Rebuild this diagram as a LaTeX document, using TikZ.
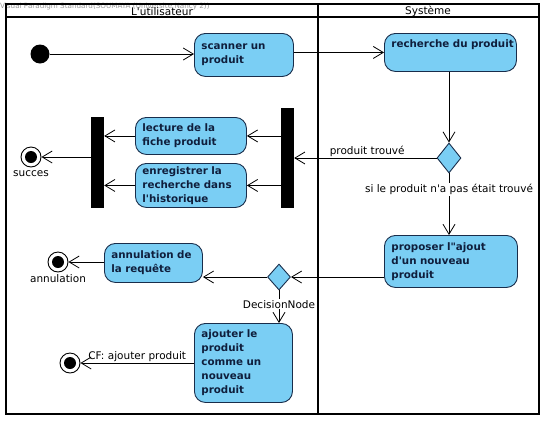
\documentclass[tikz,border=0pt]{standalone}
\usepackage{fontspec}
\setmainfont{DejaVu Sans}
\usepackage{xcolor}
\usetikzlibrary{arrows.meta,shapes.geometric,positioning}
\definecolor{actfill}{RGB}{122,206,244}
\definecolor{actline}{RGB}{25,45,75}
\definecolor{acttext}{RGB}{15,30,60}
\tikzset{>={Straight Barb[length=10pt,width=12pt]}}

\begin{document}
\begin{tikzpicture}[x=1pt,y=-1pt,
                    lane/.style={line width=1.8pt, black},
                    action/.style={rectangle, rounded corners=11pt, draw=actline, line width=0.9pt,
                                   fill=actfill, text=acttext, align=left, anchor=north west,
                                   font=\bfseries\fontsize{10.3}{14}\selectfont,
                                   inner xsep=7pt, inner ysep=3pt},
                    bar/.style={rectangle, fill=black, inner sep=0pt, minimum width=13pt},
                    start/.style={circle, fill=black, inner sep=0pt, minimum size=19pt},
                    stop/.style={circle, draw=black, line width=0.9pt, fill=white, inner sep=0pt,
                                 minimum size=20pt,
                                 path picture={\fill[black] (path picture bounding box.center) circle (6pt);}},
                    decision/.style={diamond, draw=actline, line width=0.9pt, fill=actfill, inner sep=0pt},
                    flow/.style={->, line width=0.8pt},
                    lbl/.style={font=\fontsize{10.5}{12}\selectfont, inner sep=1pt},
                   ]

\useasboundingbox (0,0) rectangle (548,421);

% swimlanes
\node[anchor=west, inner sep=0pt, text=gray!80, font=\fontsize{7.2}{8}\selectfont] (mark) at (0,6.5)
  {Visual Paradigm Standard(SOUMAYA (Universite Nancy 2))};
\draw[lane] (6,4) rectangle (539,414);
\draw[lane] (6,17) -- (539,17);
\draw[lane] (318,4) -- (318,414);
\node[lbl] (user) at (162,11.5) {L\textquotesingle utilisateur};
\node[lbl] (sys) at (428,11.5) {Système};

% actions
\node[start] (init) at (40,54) {};
\node[action, text width=85pt, minimum height=43pt] (scan) at (194,33) {scanner un\\produit};
\node[action, text width=118pt, minimum height=38pt, text depth=18pt] (search) at (384,33) {\mbox{recherche du produit}};
\node[action, text width=97pt, minimum height=37pt] (read) at (135,117) {lecture de la\\fiche produit};
\node[action, text width=97pt, minimum height=44pt, inner ysep=1pt] (log) at (135,163) {enregistrer la\\recherche dans\\l\textquotesingle historique};
\node[action, text width=84pt, minimum height=39pt] (cancel) at (104,243) {annulation de\\la requête};
\node[action, text width=119pt, minimum height=52pt] (offer) at (384,235) {proposer l\textquotedbl ajout\\d\textquotesingle un nouveau\\produit};
\node[action, text width=84pt, minimum height=79pt] (add) at (194,323) {ajouter le\\produit\\comme un\\nouveau\\produit};

\node[bar, minimum height=100pt] (fork) at (287.5,158) {};
\node[bar, minimum height=91pt] (join) at (97.5,162.5) {};

\node[decision, minimum width=24pt, minimum height=30pt] (found) at (449,158) {};
\node[decision, minimum width=23pt, minimum height=26pt] (choice) at (279,277) {};

\node[stop, label={[lbl, label distance=2pt]below:succes}] (ok) at (31,157) {};
\node[stop, label={[lbl, label distance=1pt]below:annulation}] (abort) at (58,262) {};
\node[stop] (cf) at (70,363) {};

% flows
\draw[flow] (init) -- (scan.west |- init);
\draw[flow] (scan.east |- search.west) -- (search.west);
\draw[flow] (search.south -| found.north) -- (found.north);
\draw[flow] (found.west) -- node[lbl, anchor=south west, pos=0.76]{produit trouvé} (fork.east |- found);
\draw[flow] (found.south) -- node[lbl, fill=white, pos=0.26]{si le produit n\textquotesingle a pas était trouvé} (offer.north -| found);
\draw[flow] (fork.west |- read) -- (read.east);
\draw[flow] (fork.west |- log) -- (log.east);
\draw[flow] (read.west) -- (read.west -| join.east);
\draw[flow] (log.west) -- (log.west -| join.east);
\draw[flow] (join.west |- ok) -- (ok.east);
\draw[flow] (offer.west |- choice) -- (choice.east);
\draw[flow] (choice.west) -- (choice.west -| cancel.east);
\draw[flow] (cancel.west |- abort) -- (abort.east);
\draw[flow] (choice.south) -- node[lbl, fill=white, pos=0.42]{DecisionNode} (add.north -| choice.south);
\draw[flow] (add.west |- cf) -- node[lbl, above]{CF: ajouter produit} (cf.east);

\end{tikzpicture}
\end{document}
